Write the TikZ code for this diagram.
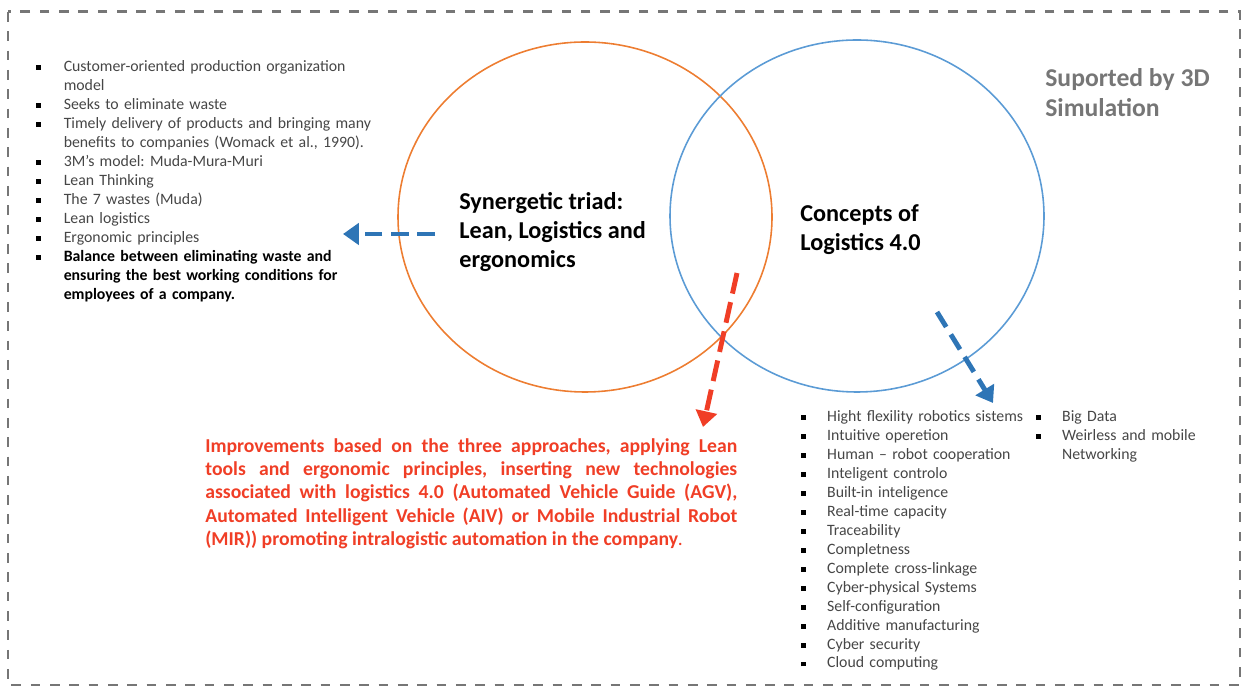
\documentclass[tikz,border=0pt]{standalone}
\usepackage{fontspec}
\setmainfont{Carlito}
\usetikzlibrary{arrows.meta, positioning}
\frenchspacing

\definecolor{leanorange}{RGB}{237,125,49}
\definecolor{logiblue}{RGB}{91,155,213}
\definecolor{arrowblue}{RGB}{46,117,182}
\definecolor{improvered}{RGB}{240,62,38}
\definecolor{framegray}{RGB}{118,118,118}
\definecolor{listgray}{RGB}{70,70,70}

% square bullets, no extra space between items
\newcommand{\sqbullet}{\textcolor{black}{\rule[0.2ex]{0.3em}{0.3em}}}
\newenvironment{squarelist}[1]{%
  \begin{list}{\sqbullet\hfill}{%
    \setlength{\leftmargin}{#1}\setlength{\labelwidth}{#1}%
    \setlength{\labelsep}{0pt}\setlength{\itemsep}{0pt}%
    \setlength{\parsep}{0pt}\setlength{\topsep}{0pt}%
    \setlength{\partopsep}{0pt}\setlength{\itemindent}{0pt}}}%
  {\end{list}}

\tikzset{
  listbox/.style={anchor=north west, inner sep=0pt, text width=#1,
    font=\fontsize{9}{10.8}\selectfont, text=listgray},
  heading/.style={anchor=west, inner sep=0pt, align=left,
    font=\fontsize{13.8}{16.4}\selectfont\bfseries},
  flow/.style={line width=2.8pt, dash pattern=on 10pt off 5pt,
    -{Triangle[width=12pt,length=9pt]}},
}

\begin{document}
\begin{tikzpicture}[x=0.02cm, y=-0.02cm]
  \useasboundingbox (0,0) rectangle (1241,688);
  \draw[framegray, line width=1.7pt, dash pattern=on 5.5pt off 5.5pt]
    (8,12) rectangle (1240,685);

  % the two sets
  \draw[leanorange, line width=0.9pt] (585,217) ellipse [x radius=187, y radius=175];
  \draw[logiblue, line width=0.9pt] (857,216) ellipse [x radius=187, y radius=176];

  \node[heading] (lean) at (459,232) {Synergetic triad:\\Lean, Logistics and\\ergonomics};
  \node[heading] (logi) at (800,230) {Concepts of\\Logistics 4.0};
  \node[heading, text=framegray, font=\fontsize{14.6}{17}\selectfont\bfseries]
    (sim) at (1045,93) {Suported by 3D\\Simulation};

  \node[listbox=8cm] (leanlist) at (36,52) {%
    \begin{squarelist}{15.6pt}
      \item Customer-oriented production organization\\model
      \item Seeks to eliminate waste
      \item Timely delivery of products and bringing many\\benefits to companies (Womack et al., 1990).
      \item 3M's model: Muda-Mura-Muri
      \item Lean Thinking
      \item The 7 wastes (Muda)
      \item Lean logistics
      \item Ergonomic principles
      \item \textcolor{black}{\bfseries Balance between eliminating waste and\\ensuring the best working conditions for\\employees of a company.}
    \end{squarelist}};

  \node[listbox=5.5cm] (logilist) at (801,402) {%
    \begin{squarelist}{14.7pt}
      \item Hight flexility robotics sistems
      \item Intuitive operetion
      \item Human -- robot cooperation
      \item Inteligent controlo
      \item Built-in inteligence
      \item Real-time capacity
      \item Traceability
      \item Completness
      \item Complete cross-linkage
      \item Cyber-physical Systems
      \item Self-configuration
      \item Additive manufacturing
      \item Cyber security
      \item Cloud computing
    \end{squarelist}};

  \node[listbox=4cm] (netlist) at (1036,402) {%
    \begin{squarelist}{14.7pt}
      \item Big Data
      \item Weirless and mobile\\Networking
    \end{squarelist}};

  \node[anchor=north west, inner sep=0pt, text width=10.64cm, align=justify,
    text=improvered, font=\fontsize{11.2}{13.3}\selectfont\bfseries]
    (improve) at (205,438) {%
    Improvements based on the three approaches, applying Lean\linebreak
    tools and ergonomic principles, inserting new technologies\linebreak
    associated with logistics 4.0 (Automated Vehicle Guide (AGV),\linebreak
    Automated Intelligent Vehicle (AIV) or Mobile Industrial Robot\linebreak
    (MIR)) promoting intralogistic automation in the company\mdseries.};

  % dashed flows out of the sets
  \coordinate (leanout) at (435,234);
  \coordinate (leantip) at (343,234);
  \coordinate (bothout) at (737,273);
  \coordinate (bothtip) at (703,427);
  \coordinate (logiout) at (937,312);
  \coordinate (logitip) at (993,403);
  \draw[flow, arrowblue] (leanout) -- (leantip);
  \draw[flow, improvered, dash pattern=on 12pt off 5pt] (bothout) -- (bothtip);
  \draw[flow, arrowblue] (logiout) -- (logitip);
\end{tikzpicture}
\end{document}
